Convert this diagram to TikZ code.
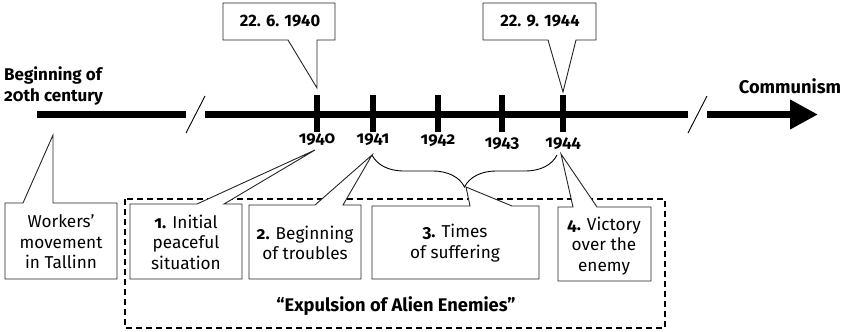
\documentclass[tikz,border=0pt]{standalone}
\usepackage{fontspec}
\setmainfont{Fira Sans}[Numbers=OldStyle]
\newfontfamily\linfont{Fira Sans}[Numbers=Lining]
\usetikzlibrary{decorations.pathreplacing,arrows.meta}
\begin{document}
\begin{tikzpicture}[x=1pt,y=-1pt,
  tl/.style={line width=7pt},
  tickmark/.style={line width=5.5pt},
  brk/.style={line width=0.9pt},
  call/.style={draw=black!85,line width=0.9pt,fill=white,line join=miter},
  lbl/.style={font=\fontsize{17.2}{20.5}\selectfont,align=center,inner sep=0pt},
  blbl/.style={font=\bfseries\fontsize{17}{20.5}\selectfont,align=center,inner sep=0pt},
  bigl/.style={font=\bfseries\fontsize{18.3}{21}\selectfont,align=center,inner sep=0pt},
  yr/.style={font=\bfseries\fontsize{16.8}{18}\selectfont,inner sep=0pt},
  dt/.style={font=\linfont\bfseries\fontsize{16.5}{18}\selectfont,inner sep=0pt},
  grp/.style={draw=black,line width=1.6pt,dash pattern=on 6pt off 4pt}]
\useasboundingbox (0,0) rectangle (849,332);

% main timeline
\coordinate (s1a) at (37,114.5);
\coordinate (s1b) at (186,114.5);
\coordinate (s2a) at (205,114.5);
\coordinate (s2b) at (688,114.5);
\coordinate (s3a) at (707,114.5);
\coordinate (s3b) at (818,114.5);
\draw[tl] (s1a) -- (s1b);
\draw[tl] (s2a) -- (s2b);
\draw[tl,-{Triangle[length=28pt,width=28pt]}] (s3a) -- (s3b);
\coordinate (k1a) at (186,133); \coordinate (k1b) at (205,96);
\coordinate (k2a) at (688,133); \coordinate (k2b) at (707,96);
\draw[brk] (k1a) -- (k1b);
\draw[brk] (k2a) -- (k2b);

% ticks
\foreach \n/\x in {1/317,2/373,3/438,4/502,5/563}{
  \coordinate (t\n a) at (\x,95);
  \coordinate (t\n b) at (\x,132);
  \draw[tickmark] (t\n a) -- (t\n b);
}

% year labels
\node[yr] (y1) at (317,140) {1940};
\node[yr] (y2) at (373,140) {1941};
\node[yr] (y3) at (438,141) {1942};
\node[yr] (y4) at (502,144) {1943};
\node[yr] (y5) at (563,144) {1944};

% end labels
\node[blbl,anchor=west,align=left] (start) at (4,86) {Beginning of\\20th century};
\node[bigl] (end) at (790,86) {Communism};

% date callouts
\draw[call] (223,3) -- (335,3) -- (335,40) -- (317,40) -- (317,88) -- (288,40) -- (223,40) -- cycle;
\node[dt] (d1) at (280,21.5) {22. 6. 1940};
\draw[call] (483,3) -- (596,3) -- (596,40) -- (576,40) -- (563,92) -- (548,40) -- (483,40) -- cycle;
\node[dt] (d2) at (540,21.5) {22. 9. 1944};

% workers callout
\draw[call] (5,203) -- (23,203) -- (53,135) -- (53,203) -- (117,203) -- (117,279) -- (5,279) -- cycle;
\node[lbl] (w) at (61,242) {Workers’\\movement\\in Tallinn};

% group
\draw[grp] (125,199) rectangle (665,328);
\node[bigl] (grpl) at (396,306) {“Expulsion of Alien Enemies”};

% brace
\draw[line width=0.9pt,decorate,decoration={brace,amplitude=32pt}] (557,155) -- (372,155);

% phase callouts
\draw[call] (130,204) -- (197,204) -- (315,150) -- (224,204) -- (242,204) -- (242,279) -- (130,279) -- cycle;
\node[lbl] (p1) at (186,242) {\textbf{1.} Initial\\peaceful\\situation};
\draw[call] (249,205) -- (315,205) -- (372,155) -- (343,205) -- (361,205) -- (361,279) -- (249,279) -- cycle;
\node[lbl] (p2) at (305,243) {\textbf{2.} Beginning\\of troubles};
\draw[call] (372,206) -- (470,206) -- (466,187) -- (512,206) -- (539,206) -- (539,279) -- (372,279) -- cycle;
\node[lbl] (p3) at (455,243) {\textbf{3.} Times\\of suffering};
\draw[call] (558,207) -- (573,207) -- (561,154) -- (597,207) -- (651,207) -- (651,281) -- (558,281) -- cycle;
\node[lbl] (p4) at (604,246) {\textbf{4.} Victory\\over the\\enemy};
\end{tikzpicture}
\end{document}
